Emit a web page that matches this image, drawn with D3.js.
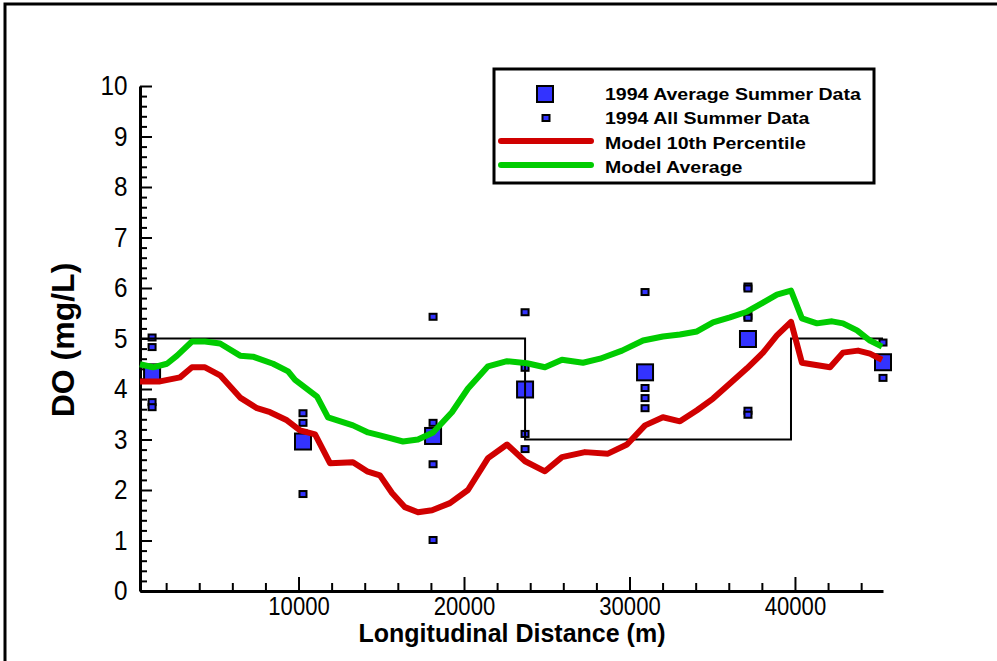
<!DOCTYPE html>
<html>
<head>
<meta charset="utf-8">
<script src="https://cdn.jsdelivr.net/npm/d3@7"></script>
<style>
  body { margin: 0; background: #fff; }
  svg { display: block; font-family: "Liberation Sans", Arial, sans-serif; }
</style>
</head>
<body>
<svg id="chart" width="997" height="661"></svg>
<script>
// 1994 observations - station averages
const avgDist = [1150, 10270, 18130, 23690, 30940, 37160, 45320];
const avgDO = [4.33, 2.96, 3.07, 3.99, 4.33, 4.99, 4.53];

// 1994 observations - all summer samples
const allDist = [1150, 1150, 1150, 1150,
  10270, 10270, 10270, 10270,
  18130, 18130, 18130, 18130,
  23690, 23690, 23690, 23690,
  30940, 30940, 30940, 30940,
  37160, 37160, 37160, 37160, 37160, 37160,
  45320, 45320, 45320];
const allDO = [5.02, 4.83, 3.74, 3.64,
  3.52, 3.33, 3.13, 1.92,
  5.43, 3.33, 2.51, 1.01,
  5.52, 4.42, 3.11, 2.81,
  5.92, 4.02, 3.82, 3.62,
  6.03, 5.99, 5.45, 5.41, 3.57, 3.49,
  4.92, 4.51, 4.22];

// model 10th percentile
const p10Dist = [420, 1630, 2840, 3560, 4350, 5260, 6470, 7490, 8280, 9300, 10090, 11000, 11900,
  13290, 14140, 14920, 15650, 16430, 17220, 18070, 19150, 20240, 21450, 22600, 23690, 24890,
  25920, 27310, 28700, 29850, 30940, 32020, 33050, 34080, 35050, 36070, 37100, 38070, 38910,
  39760, 40420, 42120, 42900, 43810, 44530, 45260];
const p10DO = [4.15, 4.15, 4.23, 4.43, 4.43, 4.27, 3.83, 3.62, 3.54, 3.38, 3.18, 3.10, 2.53,
  2.55, 2.37, 2.29, 1.94, 1.66, 1.56, 1.60, 1.74, 2.00, 2.63, 2.90, 2.57, 2.37,
  2.65, 2.75, 2.72, 2.90, 3.28, 3.44, 3.36, 3.58, 3.81, 4.11, 4.41, 4.72, 5.06,
  5.33, 4.52, 4.43, 4.72, 4.76, 4.70, 4.58];

// model average
const meanDist = [420, 1210, 2050, 2660, 3560, 4350, 5260, 6470, 7250, 8460, 9370, 9790, 11120,
  11780, 13290, 14200, 14920, 16310, 17220, 18130, 19270, 20240, 21450, 22600, 23810, 24890,
  25920, 27190, 28220, 29550, 30820, 32020, 33050, 34080, 35050, 36070, 37100, 38070, 38910,
  39760, 40420, 41330, 42240, 42900, 43750, 44530, 45260];
const meanDO = [4.49, 4.43, 4.50, 4.66, 4.94, 4.94, 4.90, 4.66, 4.64, 4.50, 4.35, 4.18, 3.85,
  3.44, 3.28, 3.14, 3.08, 2.96, 3.00, 3.14, 3.54, 4.01, 4.45, 4.55, 4.51, 4.43,
  4.58, 4.52, 4.60, 4.76, 4.96, 5.04, 5.08, 5.14, 5.32, 5.42, 5.53, 5.71, 5.87,
  5.95, 5.40, 5.30, 5.34, 5.30, 5.16, 4.96, 4.84];

// DO standard (step outline)
const stdDist = [420, 23690, 23690, 39760, 39760, 45320];
const stdDO = [5, 5, 3, 3, 5, 5];

const xTicks = [10000, 20000, 30000, 40000];
const legendLabels = ["1994 Average Summer Data", "1994 All Summer Data", "Model 10th Percentile", "Model Average"];

const blue = "#3333ff", red = "#d00000", green = "#00cc00";

const svg = d3.select("#chart");

// outer frame
svg.append("rect")
  .attr("x", 5).attr("y", 4).attr("width", 1100).attr("height", 800)
  .attr("fill", "none").attr("stroke", "#000").attr("stroke-width", 3);

const x = d3.scaleLinear().domain([420, 45320]).range([140, 883]);
const y = d3.scaleLinear().domain([0, 10]).range([591, 86]);

// axes
const minorX = d3.range(2000, 45321, 2000).filter(d => d % 10000 !== 0);
const minorY = d3.range(0, 10.01, 0.2).filter(d => Math.abs(d - Math.round(d)) > 0.01);

svg.append("g").attr("transform", "translate(0,591)")
  .call(d3.axisBottom(x).tickValues(minorX).tickSize(-8).tickSizeOuter(0).tickFormat(""))
  .call(g => g.select(".domain").remove())
  .call(g => g.selectAll("line").attr("stroke-width", 2));

svg.append("g").attr("class", "xaxis").attr("transform", "translate(0,591)")
  .call(d3.axisBottom(x).tickValues(xTicks).tickSize(-14).tickSizeOuter(0).tickPadding(6).tickFormat(d3.format("d")))
  .call(g => g.select(".domain").attr("stroke-width", 3))
  .call(g => g.selectAll("line").attr("stroke-width", 2))
  .call(g => g.selectAll("text")
    .attr("font-size", 26).attr("fill", "#000")
    .attr("font-family", "Liberation Sans, Arial, sans-serif")
    .attr("transform", "scale(0.85,1)"));

svg.append("g").attr("transform", "translate(140,0)")
  .call(d3.axisLeft(y).tickValues(minorY).tickSize(-7).tickSizeOuter(0).tickFormat(""))
  .call(g => g.select(".domain").remove())
  .call(g => g.selectAll("line").attr("stroke-width", 2));

svg.append("g").attr("class", "yaxis").attr("transform", "translate(140,0)")
  .call(d3.axisLeft(y).ticks(10).tickSize(-12).tickSizeOuter(0).tickPadding(14).tickFormat(d3.format("d")))
  .call(g => g.select(".domain").attr("stroke-width", 3))
  .call(g => g.selectAll("line").attr("stroke-width", 2))
  .call(g => g.selectAll("text")
    .attr("font-size", 27).attr("fill", "#000")
    .attr("font-family", "Liberation Sans, Arial, sans-serif")
    .attr("transform", "scale(0.9,1)"));

// axis titles
svg.append("text")
  .attr("transform", "translate(512,642)")
  .attr("text-anchor", "middle").attr("font-weight", "bold").attr("font-size", 25)
  .text("Longitudinal Distance (m)");

svg.append("text")
  .attr("transform", "translate(74,340) rotate(-90)")
  .attr("text-anchor", "middle").attr("font-weight", "bold").attr("font-size", 32)
  .text("DO (mg/L)");

// observed data squares
svg.append("g").selectAll("rect")
  .data(allDist.map((d, i) => ({ d: d, v: allDO[i] })))
  .join("rect")
  .attr("x", p => x(p.d) - 3.5).attr("y", p => y(p.v) - 3)
  .attr("width", 7).attr("height", 6)
  .attr("fill", blue).attr("stroke", "#000").attr("stroke-width", 2);

svg.append("g").selectAll("rect")
  .data(avgDist.map((d, i) => ({ d: d, v: avgDO[i] })))
  .join("rect")
  .attr("x", p => x(p.d) - 8).attr("y", p => y(p.v) - 8)
  .attr("width", 16).attr("height", 16)
  .attr("fill", blue).attr("stroke", "#000").attr("stroke-width", 2);

// standard outline
const line = d3.line().x(p => x(p[0])).y(p => y(p[1]));

svg.append("path")
  .attr("d", line(stdDist.map((d, i) => [d, stdDO[i]])))
  .attr("fill", "none").attr("stroke", "#000").attr("stroke-width", 2);

// model lines
svg.append("path")
  .attr("d", line(p10Dist.map((d, i) => [d, p10DO[i]])))
  .attr("fill", "none").attr("stroke", red).attr("stroke-width", 6)
  .attr("stroke-linejoin", "round").attr("stroke-linecap", "butt");

svg.append("path")
  .attr("d", line(meanDist.map((d, i) => [d, meanDO[i]])))
  .attr("fill", "none").attr("stroke", green).attr("stroke-width", 6)
  .attr("stroke-linejoin", "round").attr("stroke-linecap", "butt");

// legend
const leg = svg.append("g");
leg.append("rect")
  .attr("x", 494).attr("y", 69).attr("width", 380).attr("height", 114)
  .attr("fill", "#fff").attr("stroke", "#000").attr("stroke-width", 3);

leg.append("rect").attr("x", 537).attr("y", 86).attr("width", 16).attr("height", 16)
  .attr("fill", blue).attr("stroke", "#000").attr("stroke-width", 2);
leg.append("rect").attr("x", 542.5).attr("y", 115).attr("width", 7).attr("height", 6)
  .attr("fill", blue).attr("stroke", "#000").attr("stroke-width", 2);
leg.append("line").attr("x1", 501).attr("x2", 591).attr("y1", 141).attr("y2", 141)
  .attr("stroke", red).attr("stroke-width", 6).attr("stroke-linecap", "round");
leg.append("line").attr("x1", 501).attr("x2", 591).attr("y1", 165).attr("y2", 165)
  .attr("stroke", green).attr("stroke-width", 6).attr("stroke-linecap", "round");

leg.selectAll("text.lab")
  .data(legendLabels)
  .join("text")
  .attr("class", "lab")
  .attr("transform", (d, i) => "translate(605," + (100 + i * 24.3) + ") scale(1.15,1)")
  .attr("font-weight", "bold").attr("font-size", 17)
  .text(d => d);
</script>
</body>
</html>
